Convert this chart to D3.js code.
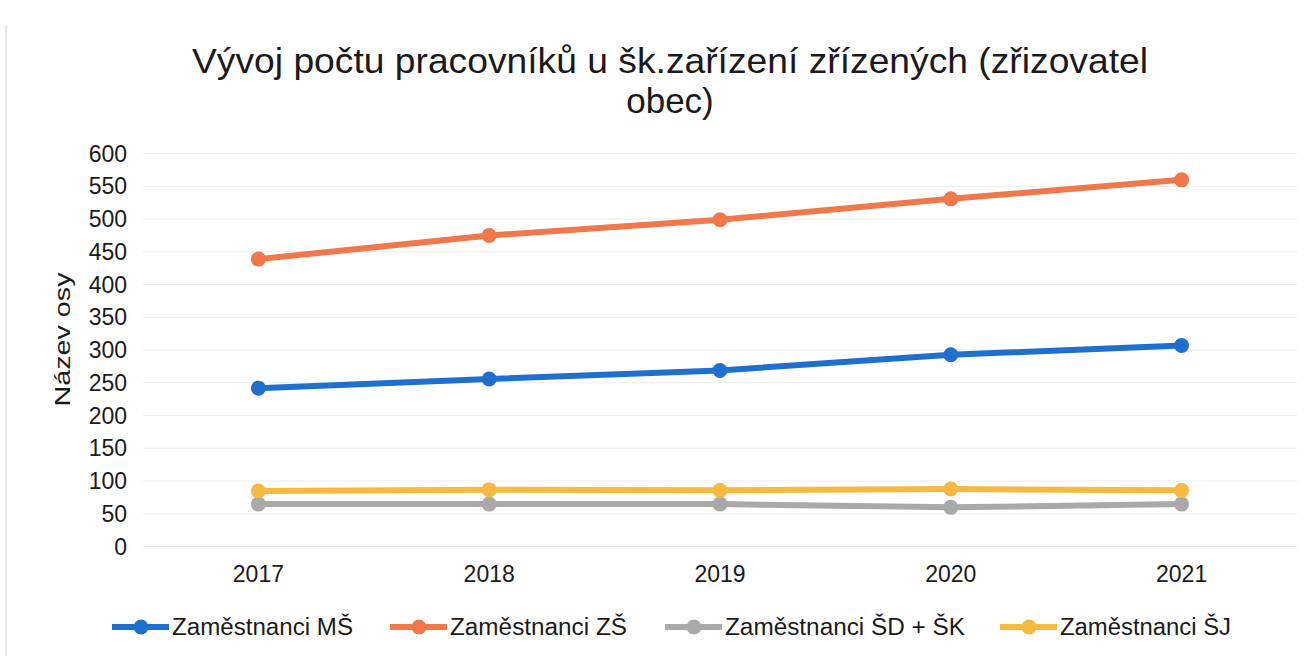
<!DOCTYPE html>
<html>
<head>
<meta charset="utf-8">
<script src="https://cdn.jsdelivr.net/npm/d3@7"></script>
<style>
  body { margin: 0; background: #fff; }
  svg { font-family: "Liberation Sans", Arial, sans-serif; }
  .grid line { stroke: #ececec; stroke-width: 1; }
  .grid path { display: none; }
  .axis path, .axis line { display: none; }
  .axis text { font-size: 23px; fill: #1a1a1a; }
</style>
</head>
<body>
<svg width="1315" height="656"></svg>
<script>
// data
const years = ["2017", "2018", "2019", "2020", "2021"];
const seriesNames = ["Zaměstnanci MŠ", "Zaměstnanci ZŠ", "Zaměstnanci ŠD + ŠK", "Zaměstnanci ŠJ"];
const valuesMS = [241, 255, 268, 292, 306];
const valuesZS = [438, 474, 498, 530, 559];
const valuesSD = [64, 64, 64, 59, 64];
const valuesSJ = [84, 86, 85, 87, 85];
const yTicks = [0, 50, 100, 150, 200, 250, 300, 350, 400, 450, 500, 550, 600];
const colors = ["#1f70ce", "#f0784a", "#a9a9a9", "#f6ba42"];

const series = [valuesMS, valuesZS, valuesSD, valuesSJ].map((v, i) => ({
  name: seriesNames[i], color: colors[i], values: v
}));

const svg = d3.select("svg");

// faint left edge of the scanned chart box
svg.append("line")
  .attr("x1", 6).attr("x2", 6).attr("y1", 25).attr("y2", 656)
  .attr("stroke", "#e8e8e8").attr("stroke-width", 2);

const margin = { left: 143, right: 18, top: 153, bottom: 110 };
const width = 1315 - margin.left - margin.right;
const height = 656 - margin.top - margin.bottom;

const g = svg.append("g").attr("transform", `translate(${margin.left},${margin.top})`);

const x = d3.scaleBand().domain(years).range([0, width]);
const y = d3.scaleLinear().domain([0, 600]).range([height, 0]);

// gridlines
g.append("g")
  .attr("class", "grid")
  .call(d3.axisLeft(y).tickValues(yTicks).tickSize(-width).tickFormat(""));

// left axis
g.append("g")
  .attr("class", "left axis")
  .call(d3.axisLeft(y).tickValues(yTicks).tickSize(0).tickPadding(16))
  .selectAll("text").attr("dy", "0.35em");

// bottom axis
g.append("g")
  .attr("class", "bottom axis")
  .attr("transform", `translate(0,${height})`)
  .call(d3.axisBottom(x).tickSize(0).tickPadding(20));

// y axis-label
g.append("text")
  .attr("transform", "rotate(-90)")
  .attr("x", -(y(300) - 10))
  .attr("y", -73)
  .attr("font-size", "22px")
  .attr("text-anchor", "middle")
  .attr("textLength", 134)
  .attr("lengthAdjust", "spacingAndGlyphs")
  .attr("fill", "#1a1a1a")
  .text("Název osy");

// title
svg.append("text")
  .attr("x", 192).attr("y", 73)
  .attr("font-size", "35px")
  .attr("textLength", 956)
  .attr("lengthAdjust", "spacingAndGlyphs")
  .attr("fill", "#1a1a1a")
  .text("Vývoj počtu pracovníků u šk.zařízení zřízených (zřizovatel");
svg.append("text")
  .attr("x", 670).attr("y", 113)
  .attr("font-size", "35px")
  .attr("text-anchor", "middle")
  .attr("fill", "#1a1a1a")
  .text("obec)");

// lines
const line = d3.line()
  .x((d, i) => x(years[i]) + x.bandwidth() / 2)
  .y(d => y(d));

series.forEach(s => {
  g.append("path")
    .datum(s.values)
    .attr("fill", "none")
    .attr("stroke", s.color)
    .attr("stroke-width", 6)
    .attr("stroke-linejoin", "round")
    .attr("d", line);
  g.selectAll(null)
    .data(s.values)
    .enter()
    .append("circle")
    .attr("cx", (d, i) => x(years[i]) + x.bandwidth() / 2)
    .attr("cy", d => y(d))
    .attr("r", 7.5)
    .attr("fill", s.color);
});

// legend
const legendX = [112, 390, 665, 1000];
const legendW = [181, 177, 240, 171];
const legend = svg.append("g").attr("transform", "translate(0,627)");
series.forEach((s, i) => {
  const item = legend.append("g").attr("transform", `translate(${legendX[i]},0)`);
  item.append("line")
    .attr("x1", 0).attr("x2", 57).attr("y1", 0).attr("y2", 0)
    .attr("stroke", s.color).attr("stroke-width", 6);
  item.append("circle").attr("cx", 29).attr("cy", 0).attr("r", 7.5).attr("fill", s.color);
  item.append("text")
    .attr("x", 60).attr("y", 0).attr("dy", "0.35em")
    .attr("font-size", "23px")
    .attr("textLength", legendW[i])
    .attr("lengthAdjust", "spacingAndGlyphs")
    .attr("fill", "#1a1a1a")
    .text(s.name);
});
</script>
</body>
</html>
